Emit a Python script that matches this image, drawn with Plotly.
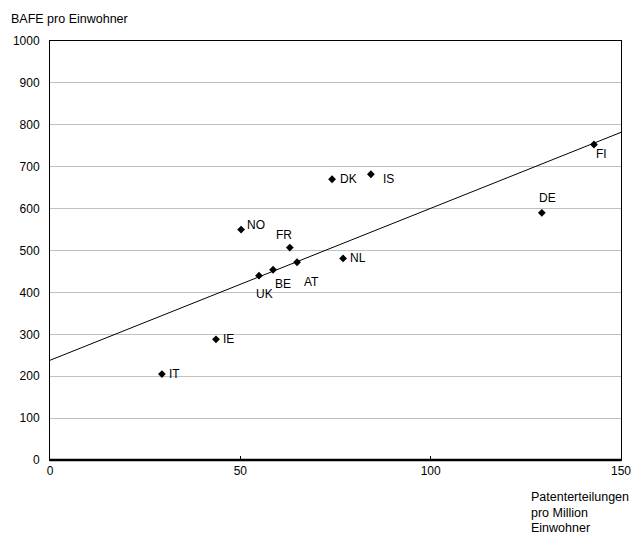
import plotly.graph_objects as go

countries = ["IT", "IE", "NO", "UK", "BE", "FR", "AT", "NL", "DK", "IS", "DE", "FI"]
patents = [29.4, 43.6, 50.2, 54.9, 58.6, 63.0, 64.9, 77.0, 74.1, 84.3, 129.2, 142.9]
bafe = [205, 288, 550, 440, 454, 507, 472, 481, 670, 682, 590, 753]

trend_x = [0, 150]
trend_y = [238, 782]

x_ticks = [0, 50, 100, 150]
y_ticks = [0, 100, 200, 300, 400, 500, 600, 700, 800, 900, 1000]

y_title = "BAFE pro Einwohner"
x_title_lines = ["Patenterteilungen", "pro Million", "Einwohner"]

# label offsets in pixels (dx, dy) from marker centre to label centre
offsets = {
    "IT": (13, 0), "IE": (13, 0), "NO": (15, 5), "UK": (6, -18),
    "BE": (10, -14), "FR": (-6, 13), "AT": (14, -20), "NL": (15, 0),
    "DK": (16, 0), "IS": (18, -5), "DE": (6, 15), "FI": (8, -10),
}

FONT = "Liberation Sans, Arial, sans-serif"

fig = go.Figure()
fig.add_trace(go.Scatter(x=trend_x, y=trend_y, mode="lines",
                         line=dict(color="black", width=1), hoverinfo="skip",
                         showlegend=False))
fig.add_trace(go.Scatter(x=patents, y=bafe, mode="markers",
                         marker=dict(symbol="diamond", size=6, color="black"),
                         showlegend=False))

for c, xv, yv in zip(countries, patents, bafe):
    dx, dy = offsets[c]
    fig.add_annotation(x=xv, y=yv, text=c, showarrow=False,
                       xshift=dx, yshift=dy, xanchor="center", yanchor="middle",
                       font=dict(family=FONT, size=12, color="black"))

fig.add_annotation(x=0, y=1, xref="paper", yref="paper", xanchor="left", yanchor="middle",
                   xshift=-41, yshift=22, text=y_title, showarrow=False,
                   font=dict(family=FONT, size=12.5, color="black"))
for i, line in enumerate(x_title_lines):
    fig.add_annotation(x=1, y=0, xref="paper", yref="paper", xanchor="left", yanchor="middle",
                       xshift=-92, yshift=-37 - 15.5 * i, text=line, showarrow=False,
                       font=dict(family=FONT, size=12.5, color="black"))

fig.update_layout(
    width=633, height=534,
    margin=dict(l=50, r=12, t=41, b=74, autoexpand=False),
    plot_bgcolor="white", paper_bgcolor="white",
    font=dict(family=FONT, size=12, color="black"),
    xaxis=dict(range=[0, 150], tickvals=x_ticks, showgrid=False, zeroline=False,
               showline=True, linecolor="black", linewidth=1, mirror=True,
               ticks="inside", ticklen=4, tickcolor="black", fixedrange=True,
               automargin=False),
    yaxis=dict(range=[0, 1000], tickvals=y_ticks, showgrid=True, gridcolor="#c0c0c0",
               gridwidth=1, zeroline=False, showline=True, linecolor="black",
               linewidth=1, mirror=True, ticks="", ticklabelstandoff=7,
               fixedrange=True, automargin=False),
)
fig.add_shape(type="line", xref="paper", yref="paper", x0=0, x1=1, y0=0, y1=0,
              line=dict(color="black", width=2.5))

fig.write_html(
    "out.html",
    config={"displayModeBar": False},
    post_script="document.body.style.margin='0';document.body.style.overflow='hidden';",
)
